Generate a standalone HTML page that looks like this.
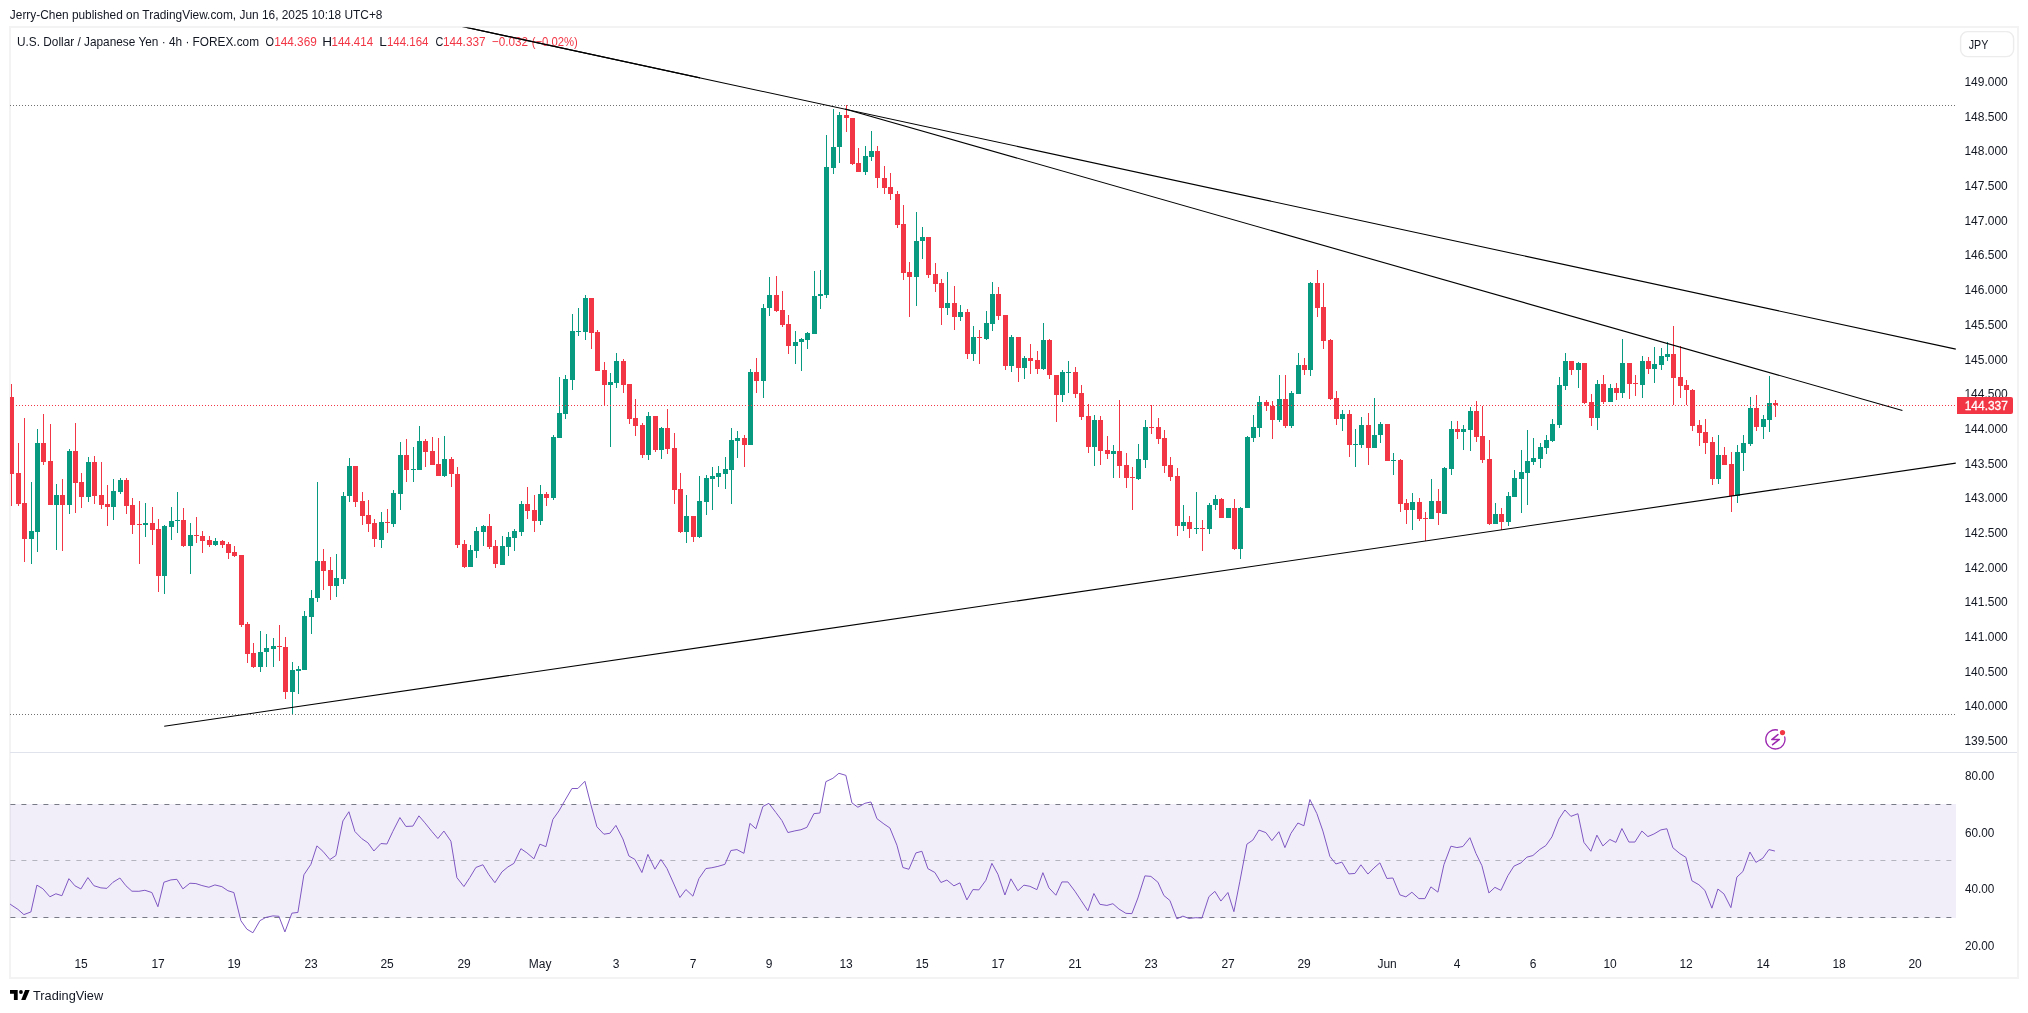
<!DOCTYPE html><html><head><meta charset="utf-8"><title>USDJPY</title><style>
html,body{margin:0;padding:0;background:#fff;}
body{width:2028px;height:1013px;overflow:hidden;position:relative;font-family:"Liberation Sans", sans-serif;}
svg{position:absolute;left:0;top:0;will-change:transform;}
</style></head><body>
<svg width="2028" height="1013" viewBox="0 0 2028 1013" font-family='"Liberation Sans", sans-serif'>
<defs>
<clipPath id="cm"><rect x="10" y="27.6" width="1946" height="724.4"/></clipPath>
<clipPath id="cr"><rect x="10" y="753" width="1946" height="197"/></clipPath>
</defs>
<rect x="10" y="27" width="2008" height="951" fill="none" stroke="#f3f3f3" stroke-width="2"/>
<rect x="10" y="752" width="2007" height="1" fill="#e0e3eb"/>
<g clip-path="url(#cm)">
<line x1="10" y1="105.5" x2="1956" y2="105.5" stroke="#707070" stroke-width="1" stroke-dasharray="1 2"/>
<line x1="10" y1="714.5" x2="1956" y2="714.5" stroke="#707070" stroke-width="1" stroke-dasharray="1 2"/>
<path fill="#089981" d="M31 482h1v82h-1zM37 429h1v123h-1zM56 484h1v66h-1zM69 449h1v65h-1zM88 457h1v45h-1zM113 479h1v41h-1zM120 478h1v16h-1zM145 503h1v34h-1zM164 525h1v69h-1zM171 507h1v33h-1zM177 492h1v41h-1zM190 523h1v51h-1zM215 538h1v8h-1zM260 631h1v41h-1zM266 634h1v33h-1zM273 638h1v29h-1zM292 662h1v52h-1zM298 666h1v28h-1zM304 611h1v59h-1zM311 590h1v44h-1zM317 482h1v120h-1zM336 554h1v43h-1zM343 492h1v92h-1zM349 458h1v44h-1zM381 512h1v36h-1zM393 490h1v37h-1zM400 442h1v68h-1zM413 447h1v35h-1zM419 426h1v44h-1zM444 436h1v41h-1zM470 545h1v22h-1zM476 527h1v31h-1zM483 525h1v21h-1zM502 536h1v29h-1zM508 532h1v24h-1zM514 529h1v22h-1zM521 501h1v35h-1zM540 485h1v40h-1zM553 435h1v65h-1zM559 377h1v61h-1zM565 375h1v44h-1zM572 314h1v76h-1zM578 308h1v28h-1zM585 295h1v45h-1zM610 373h1v74h-1zM616 353h1v35h-1zM648 412h1v48h-1zM661 427h1v32h-1zM686 495h1v48h-1zM699 476h1v62h-1zM706 475h1v40h-1zM712 467h1v43h-1zM718 466h1v21h-1zM725 457h1v32h-1zM731 428h1v76h-1zM737 431h1v27h-1zM750 369h1v76h-1zM763 304h1v94h-1zM769 277h1v39h-1zM795 331h1v33h-1zM801 338h1v33h-1zM807 332h1v17h-1zM814 271h1v63h-1zM820 270h1v39h-1zM826 135h1v163h-1zM833 109h1v65h-1zM839 112h1v51h-1zM865 146h1v29h-1zM871 131h1v30h-1zM916 212h1v94h-1zM922 227h1v32h-1zM947 272h1v43h-1zM960 305h1v16h-1zM973 326h1v35h-1zM986 311h1v29h-1zM992 282h1v49h-1zM1011 335h1v37h-1zM1024 356h1v23h-1zM1043 323h1v47h-1zM1062 370h1v32h-1zM1068 361h1v32h-1zM1094 415h1v51h-1zM1113 445h1v33h-1zM1138 444h1v36h-1zM1145 420h1v48h-1zM1183 505h1v26h-1zM1196 492h1v42h-1zM1209 503h1v31h-1zM1215 495h1v15h-1zM1228 508h1v10h-1zM1240 507h1v52h-1zM1247 436h1v72h-1zM1253 415h1v27h-1zM1259 396h1v41h-1zM1279 375h1v47h-1zM1291 391h1v37h-1zM1298 353h1v41h-1zM1310 282h1v94h-1zM1342 410h1v21h-1zM1355 429h1v38h-1zM1361 417h1v31h-1zM1374 398h1v50h-1zM1380 422h1v21h-1zM1393 453h1v22h-1zM1412 493h1v37h-1zM1431 479h1v40h-1zM1444 467h1v47h-1zM1451 421h1v54h-1zM1463 425h1v25h-1zM1470 407h1v44h-1zM1495 503h1v21h-1zM1508 492h1v34h-1zM1514 470h1v27h-1zM1521 450h1v63h-1zM1527 430h1v75h-1zM1533 438h1v27h-1zM1540 443h1v25h-1zM1546 435h1v19h-1zM1552 419h1v23h-1zM1559 377h1v51h-1zM1565 353h1v37h-1zM1578 362h1v26h-1zM1597 380h1v50h-1zM1610 384h1v18h-1zM1622 339h1v59h-1zM1642 356h1v42h-1zM1654 347h1v36h-1zM1661 348h1v22h-1zM1667 342h1v19h-1zM1718 435h1v49h-1zM1737 445h1v58h-1zM1743 435h1v36h-1zM1750 397h1v49h-1zM1763 415h1v24h-1zM1769 376h1v56h-1z"/>
<path fill="#089981" d="M29 531h5v8h-5zM35 443h5v89h-5zM54 495h5v10h-5zM67 451h5v54h-5zM86 462h5v35h-5zM111 491h5v16h-5zM118 480h5v12h-5zM143 523h5v2h-5zM162 526h5v50h-5zM169 521h5v6h-5zM175 520h5v1h-5zM188 535h5v11h-5zM213 541h5v4h-5zM258 652h5v15h-5zM264 648h5v4h-5zM271 646h5v3h-5zM290 670h5v22h-5zM296 669h5v2h-5zM302 616h5v54h-5zM309 598h5v19h-5zM315 561h5v37h-5zM334 578h5v8h-5zM341 496h5v83h-5zM347 466h5v30h-5zM379 522h5v18h-5zM391 493h5v31h-5zM398 455h5v39h-5zM411 469h5v1h-5zM417 441h5v29h-5zM442 459h5v17h-5zM468 550h5v17h-5zM474 531h5v20h-5zM481 526h5v6h-5zM500 546h5v19h-5zM506 537h5v10h-5zM512 531h5v7h-5zM519 504h5v28h-5zM538 494h5v27h-5zM551 437h5v61h-5zM557 413h5v25h-5zM563 379h5v35h-5zM570 331h5v49h-5zM576 331h5v1h-5zM583 298h5v34h-5zM608 382h5v3h-5zM614 361h5v22h-5zM646 416h5v39h-5zM659 428h5v22h-5zM684 516h5v16h-5zM697 501h5v36h-5zM704 478h5v24h-5zM710 476h5v3h-5zM716 473h5v4h-5zM723 469h5v5h-5zM729 440h5v30h-5zM735 438h5v3h-5zM748 372h5v73h-5zM761 308h5v73h-5zM767 295h5v13h-5zM793 342h5v4h-5zM799 339h5v3h-5zM805 333h5v7h-5zM812 296h5v38h-5zM818 294h5v2h-5zM824 167h5v128h-5zM831 147h5v21h-5zM837 115h5v32h-5zM863 156h5v16h-5zM869 151h5v6h-5zM914 241h5v36h-5zM920 237h5v4h-5zM945 303h5v5h-5zM958 312h5v5h-5zM971 337h5v17h-5zM984 323h5v16h-5zM990 294h5v30h-5zM1009 337h5v29h-5zM1022 358h5v10h-5zM1041 340h5v29h-5zM1060 372h5v23h-5zM1066 372h5v1h-5zM1092 420h5v27h-5zM1111 451h5v3h-5zM1136 459h5v20h-5zM1143 427h5v33h-5zM1181 522h5v4h-5zM1194 528h5v1h-5zM1207 505h5v24h-5zM1213 499h5v6h-5zM1226 508h5v10h-5zM1238 508h5v41h-5zM1245 437h5v71h-5zM1251 427h5v11h-5zM1257 402h5v26h-5zM1277 399h5v21h-5zM1289 393h5v33h-5zM1296 365h5v29h-5zM1308 283h5v87h-5zM1340 414h5v5h-5zM1353 444h5v1h-5zM1359 425h5v20h-5zM1372 435h5v13h-5zM1378 424h5v11h-5zM1391 460h5v1h-5zM1410 502h5v8h-5zM1429 501h5v18h-5zM1442 468h5v46h-5zM1449 429h5v40h-5zM1461 429h5v3h-5zM1468 411h5v19h-5zM1493 514h5v10h-5zM1506 496h5v26h-5zM1512 478h5v19h-5zM1519 472h5v7h-5zM1525 461h5v12h-5zM1531 458h5v4h-5zM1538 447h5v12h-5zM1544 440h5v8h-5zM1550 424h5v17h-5zM1557 385h5v40h-5zM1563 361h5v25h-5zM1576 363h5v7h-5zM1595 384h5v34h-5zM1608 388h5v14h-5zM1620 363h5v30h-5zM1640 361h5v24h-5zM1652 364h5v5h-5zM1659 356h5v9h-5zM1665 354h5v3h-5zM1716 455h5v24h-5zM1735 452h5v44h-5zM1741 443h5v10h-5zM1748 408h5v36h-5zM1761 419h5v8h-5zM1767 403h5v17h-5z"/>
<path fill="#f23645" d="M11 384h1v122h-1zM18 443h1v63h-1zM24 418h1v144h-1zM43 414h1v51h-1zM50 424h1v81h-1zM62 479h1v72h-1zM75 423h1v90h-1zM81 473h1v35h-1zM94 456h1v48h-1zM101 462h1v47h-1zM107 485h1v41h-1zM126 478h1v36h-1zM132 498h1v36h-1zM139 501h1v63h-1zM152 507h1v38h-1zM158 519h1v73h-1zM183 508h1v39h-1zM196 517h1v26h-1zM202 531h1v22h-1zM209 536h1v11h-1zM222 540h1v8h-1zM228 542h1v17h-1zM234 546h1v11h-1zM241 555h1v72h-1zM247 622h1v41h-1zM253 643h1v25h-1zM279 625h1v36h-1zM285 637h1v62h-1zM323 549h1v41h-1zM330 557h1v43h-1zM355 466h1v41h-1zM362 492h1v33h-1zM368 500h1v32h-1zM374 519h1v28h-1zM387 509h1v24h-1zM406 439h1v43h-1zM425 439h1v28h-1zM432 437h1v28h-1zM438 438h1v38h-1zM451 457h1v30h-1zM457 467h1v81h-1zM464 540h1v28h-1zM489 514h1v35h-1zM495 540h1v28h-1zM527 487h1v32h-1zM534 495h1v37h-1zM546 492h1v14h-1zM591 298h1v51h-1zM597 330h1v41h-1zM604 362h1v44h-1zM623 359h1v34h-1zM629 384h1v40h-1zM635 399h1v37h-1zM642 423h1v35h-1zM655 416h1v36h-1zM667 409h1v45h-1zM674 433h1v71h-1zM680 473h1v60h-1zM693 516h1v26h-1zM744 435h1v32h-1zM756 358h1v35h-1zM776 276h1v36h-1zM782 291h1v36h-1zM788 315h1v39h-1zM846 105h1v27h-1zM852 118h1v47h-1zM858 148h1v24h-1zM877 146h1v42h-1zM884 166h1v28h-1zM890 173h1v27h-1zM897 191h1v37h-1zM903 205h1v75h-1zM909 262h1v55h-1zM928 237h1v41h-1zM935 263h1v29h-1zM941 279h1v46h-1zM954 286h1v44h-1zM967 309h1v50h-1zM979 330h1v34h-1zM998 287h1v33h-1zM1005 315h1v55h-1zM1018 337h1v45h-1zM1030 344h1v30h-1zM1037 351h1v23h-1zM1049 339h1v40h-1zM1056 375h1v47h-1zM1075 367h1v31h-1zM1081 385h1v35h-1zM1088 404h1v49h-1zM1100 416h1v49h-1zM1107 436h1v23h-1zM1119 400h1v78h-1zM1126 453h1v35h-1zM1132 467h1v43h-1zM1151 405h1v29h-1zM1158 418h1v26h-1zM1164 430h1v43h-1zM1170 457h1v24h-1zM1177 468h1v68h-1zM1189 516h1v22h-1zM1202 520h1v31h-1zM1221 498h1v20h-1zM1234 499h1v51h-1zM1266 400h1v11h-1zM1272 401h1v38h-1zM1285 375h1v53h-1zM1304 358h1v17h-1zM1317 270h1v47h-1zM1323 283h1v66h-1zM1330 339h1v61h-1zM1336 391h1v34h-1zM1349 410h1v47h-1zM1368 413h1v52h-1zM1387 424h1v37h-1zM1400 459h1v53h-1zM1406 499h1v25h-1zM1419 498h1v23h-1zM1425 512h1v29h-1zM1438 489h1v36h-1zM1457 421h1v18h-1zM1476 401h1v41h-1zM1482 406h1v57h-1zM1489 440h1v85h-1zM1501 508h1v22h-1zM1571 361h1v14h-1zM1584 363h1v41h-1zM1591 394h1v32h-1zM1603 375h1v29h-1zM1616 383h1v17h-1zM1629 363h1v36h-1zM1635 375h1v21h-1zM1648 357h1v17h-1zM1673 326h1v79h-1zM1680 346h1v52h-1zM1686 380h1v25h-1zM1692 389h1v42h-1zM1699 420h1v26h-1zM1705 419h1v35h-1zM1712 437h1v48h-1zM1724 447h1v18h-1zM1731 452h1v60h-1zM1756 395h1v36h-1zM1775 400h1v17h-1z"/>
<path fill="#f23645" d="M9 397h5v77h-5zM16 473h5v31h-5zM22 503h5v36h-5zM41 443h5v19h-5zM48 461h5v44h-5zM60 495h5v10h-5zM73 451h5v32h-5zM79 482h5v15h-5zM92 462h5v34h-5zM99 495h5v10h-5zM105 504h5v3h-5zM124 480h5v26h-5zM130 505h5v20h-5zM137 524h5v1h-5zM150 523h5v7h-5zM156 529h5v47h-5zM181 520h5v26h-5zM194 535h5v1h-5zM200 536h5v5h-5zM207 540h5v5h-5zM220 541h5v4h-5zM226 544h5v9h-5zM232 552h5v4h-5zM239 555h5v70h-5zM245 624h5v30h-5zM251 653h5v14h-5zM277 646h5v1h-5zM283 647h5v45h-5zM321 561h5v10h-5zM328 570h5v16h-5zM353 466h5v36h-5zM360 501h5v15h-5zM366 515h5v9h-5zM372 523h5v16h-5zM385 522h5v1h-5zM404 455h5v15h-5zM423 441h5v11h-5zM430 451h5v14h-5zM436 464h5v12h-5zM449 459h5v15h-5zM455 474h5v71h-5zM462 544h5v23h-5zM487 526h5v21h-5zM493 546h5v18h-5zM525 504h5v7h-5zM532 510h5v11h-5zM544 494h5v4h-5zM589 298h5v35h-5zM595 332h5v39h-5zM602 370h5v15h-5zM621 361h5v24h-5zM627 384h5v35h-5zM633 418h5v8h-5zM640 425h5v30h-5zM653 416h5v34h-5zM665 428h5v21h-5zM672 448h5v42h-5zM678 489h5v43h-5zM691 516h5v21h-5zM742 438h5v7h-5zM754 372h5v9h-5zM774 295h5v16h-5zM780 310h5v15h-5zM786 324h5v22h-5zM844 115h5v3h-5zM850 118h5v46h-5zM856 163h5v9h-5zM875 151h5v27h-5zM882 178h5v10h-5zM888 187h5v7h-5zM895 194h5v31h-5zM901 224h5v49h-5zM907 272h5v5h-5zM926 237h5v38h-5zM933 274h5v10h-5zM939 283h5v25h-5zM952 303h5v14h-5zM965 312h5v42h-5zM977 337h5v1h-5zM996 294h5v22h-5zM1003 315h5v51h-5zM1016 337h5v31h-5zM1028 358h5v3h-5zM1035 360h5v9h-5zM1047 340h5v35h-5zM1054 375h5v20h-5zM1073 372h5v22h-5zM1079 393h5v24h-5zM1086 416h5v31h-5zM1098 420h5v31h-5zM1105 450h5v4h-5zM1117 451h5v15h-5zM1124 465h5v13h-5zM1130 477h5v1h-5zM1149 427h5v1h-5zM1156 427h5v12h-5zM1162 438h5v28h-5zM1168 465h5v12h-5zM1175 476h5v50h-5zM1187 522h5v7h-5zM1200 528h5v1h-5zM1219 499h5v19h-5zM1232 508h5v41h-5zM1264 402h5v4h-5zM1270 406h5v14h-5zM1283 399h5v27h-5zM1302 365h5v5h-5zM1315 283h5v25h-5zM1321 307h5v34h-5zM1328 340h5v59h-5zM1334 398h5v21h-5zM1347 414h5v31h-5zM1366 425h5v23h-5zM1385 424h5v37h-5zM1398 460h5v44h-5zM1404 503h5v7h-5zM1417 502h5v17h-5zM1423 518h5v1h-5zM1436 501h5v12h-5zM1455 429h5v3h-5zM1474 411h5v26h-5zM1480 436h5v24h-5zM1487 459h5v65h-5zM1499 514h5v8h-5zM1569 361h5v9h-5zM1582 363h5v40h-5zM1589 402h5v16h-5zM1601 384h5v18h-5zM1614 388h5v5h-5zM1627 363h5v21h-5zM1633 383h5v1h-5zM1646 361h5v8h-5zM1671 354h5v24h-5zM1678 377h5v9h-5zM1684 385h5v5h-5zM1690 390h5v36h-5zM1697 425h5v8h-5zM1703 432h5v11h-5zM1710 442h5v37h-5zM1722 455h5v10h-5zM1729 464h5v32h-5zM1754 408h5v19h-5zM1773 403h5v2h-5z"/>
<line x1="10" y1="405.5" x2="1956" y2="405.5" stroke="#f23645" stroke-width="1" stroke-dasharray="1 2"/>
<line x1="446.3" y1="23.08" x2="1955.8" y2="349.1" stroke="#000" stroke-width="1.1"/>
<line x1="845" y1="109" x2="1902.4" y2="410.5" stroke="#000" stroke-width="1.1"/>
<line x1="164.2" y1="726.2" x2="1955.8" y2="463.1" stroke="#000" stroke-width="1.1"/>
<g fill="none" stroke="#9c27b0" stroke-width="1.3" stroke-linecap="round" stroke-linejoin="round">
<path d="M1784.67 736.92 A9.6 9.6 0 1 1 1777.40 730.01"/>
<path d="M1777.9 734.6 L1771.8 739.6 L1779.4 739.4 L1772.6 744.7" stroke-width="1.5"/>
</g>
<circle cx="1782.5" cy="732.6" r="2.6" fill="#f23645"/>
</g>
<g clip-path="url(#cr)">
<rect x="10" y="804" width="1946" height="114" fill="#7e57c2" fill-opacity="0.1"/>
<line x1="10.4" y1="804.5" x2="1956" y2="804.5" stroke="#787b86" stroke-opacity="1" stroke-width="1" stroke-dasharray="5 6"/>
<line x1="10.4" y1="860.5" x2="1956" y2="860.5" stroke="#787b86" stroke-opacity="0.5" stroke-width="1" stroke-dasharray="5 6"/>
<line x1="10.4" y1="917.5" x2="1956" y2="917.5" stroke="#787b86" stroke-opacity="1" stroke-width="1" stroke-dasharray="5 6"/>
<polyline fill="none" stroke="#7e57c2" stroke-width="1" points="4.9,899.7 10.9,904.70 17.9,909.33 23.9,914.59 30.9,911.95 36.9,885.13 42.9,888.77 49.9,896.79 55.9,893.78 61.9,895.73 68.9,878.65 74.9,885.79 80.9,888.95 87.9,877.55 93.9,885.73 100.9,887.86 106.9,888.36 112.9,882.34 119.9,878.01 125.9,885.72 131.9,891.20 138.9,891.29 144.9,890.26 151.9,892.55 157.9,906.74 163.9,882.24 170.9,879.90 176.9,879.32 182.9,888.88 189.9,883.22 195.9,883.58 201.9,885.52 208.9,887.27 214.9,884.92 221.9,886.66 227.9,890.73 233.9,892.55 240.9,920.72 246.9,929.18 252.9,932.77 259.9,920.68 265.9,917.40 272.9,915.88 278.9,916.27 284.9,931.93 291.9,913.17 297.9,912.43 303.9,874.82 310.9,864.33 316.9,845.88 322.9,851.28 329.9,859.57 335.9,855.48 342.9,820.96 348.9,811.73 354.9,831.54 361.9,838.72 367.9,842.79 373.9,850.97 380.9,843.53 386.9,844.03 392.9,831.28 399.9,817.55 405.9,826.44 412.9,826.10 418.9,815.84 424.9,822.83 431.9,831.50 437.9,838.54 443.9,831.06 450.9,841.19 456.9,877.64 463.9,886.56 469.9,877.43 475.9,867.46 482.9,864.76 488.9,874.72 494.9,882.69 501.9,871.93 507.9,866.95 513.9,863.38 520.9,848.70 526.9,852.83 533.9,858.80 539.9,844.17 545.9,846.68 552.9,819.36 558.9,811.00 564.9,800.53 571.9,788.56 577.9,788.47 584.9,781.25 590.9,804.74 596.9,826.75 603.9,834.21 609.9,833.24 615.9,825.38 622.9,838.96 628.9,856.00 634.9,859.43 641.9,872.54 647.9,854.42 654.9,869.17 660.9,859.45 666.9,868.40 673.9,884.03 679.9,897.57 685.9,889.52 692.9,896.17 698.9,878.66 705.9,868.56 711.9,867.72 717.9,866.40 724.9,864.33 730.9,850.51 736.9,849.59 743.9,853.35 749.9,823.41 755.9,828.75 762.9,806.53 768.9,803.30 775.9,812.53 781.9,820.53 787.9,832.55 794.9,830.86 800.9,829.74 806.9,827.33 813.9,813.66 819.9,813.00 825.9,781.63 832.9,778.29 838.9,773.27 845.9,775.39 851.9,802.84 857.9,807.26 864.9,803.31 870.9,801.97 876.9,818.61 883.9,823.95 889.9,827.98 896.9,845.14 902.9,867.50 908.9,869.25 915.9,852.93 921.9,851.28 927.9,868.66 934.9,872.50 940.9,882.49 946.9,880.05 953.9,885.85 959.9,882.89 966.9,899.92 972.9,889.58 978.9,889.88 985.9,880.25 991.9,863.33 997.9,874.19 1004.9,895.01 1010.9,878.83 1017.9,890.76 1023.9,885.15 1029.9,886.32 1036.9,889.67 1042.9,872.66 1048.9,887.84 1055.9,895.24 1061.9,881.95 1067.9,881.95 1074.9,891.20 1080.9,900.23 1087.9,910.76 1093.9,893.50 1099.9,904.34 1106.9,905.43 1112.9,903.71 1118.9,908.97 1125.9,913.33 1131.9,913.63 1137.9,897.98 1144.9,875.87 1150.9,876.40 1157.9,882.20 1163.9,895.54 1169.9,900.47 1176.9,918.85 1182.9,916.10 1188.9,918.48 1195.9,917.69 1201.9,918.09 1208.9,896.70 1214.9,891.37 1220.9,901.07 1227.9,892.51 1233.9,911.67 1239.9,881.20 1246.9,844.17 1252.9,840.06 1258.9,830.08 1265.9,832.62 1271.9,840.63 1278.9,831.71 1284.9,847.64 1290.9,833.44 1297.9,823.00 1303.9,825.76 1309.9,799.54 1316.9,813.67 1322.9,831.07 1329.9,856.44 1335.9,863.96 1341.9,862.12 1348.9,873.91 1354.9,873.46 1360.9,864.80 1367.9,874.07 1373.9,868.01 1379.9,862.82 1386.9,878.47 1392.9,877.99 1399.9,894.87 1405.9,896.87 1411.9,892.25 1418.9,898.62 1424.9,898.62 1430.9,886.89 1437.9,892.14 1443.9,864.81 1450.9,846.20 1456.9,847.57 1462.9,846.51 1469.9,837.69 1475.9,853.31 1481.9,865.61 1488.9,892.95 1494.9,887.35 1500.9,890.37 1507.9,875.70 1513.9,866.17 1520.9,862.90 1526.9,857.16 1532.9,855.52 1539.9,849.39 1545.9,845.53 1551.9,836.93 1558.9,819.07 1564.9,809.98 1570.9,816.37 1577.9,813.71 1583.9,842.34 1590.9,851.27 1596.9,835.13 1602.9,845.93 1609.9,839.50 1615.9,842.40 1621.9,828.51 1628.9,842.05 1634.9,842.05 1641.9,831.04 1647.9,836.57 1653.9,834.01 1660.9,829.89 1666.9,828.76 1672.9,847.74 1679.9,853.61 1685.9,857.35 1691.9,880.78 1698.9,884.76 1704.9,890.41 1711.9,908.16 1717.9,889.04 1723.9,893.83 1730.9,907.68 1736.9,877.08 1742.9,871.51 1749.9,852.02 1755.9,862.39 1762.9,858.12 1768.9,849.59 1774.9,851.04"/>
</g>
<rect x="1960.6" y="31.6" width="53" height="25" rx="7" fill="#fff" stroke="#ececec" stroke-width="1.4"/>
<text id="hdr" x="9.83" y="18.7" font-size="12.7" fill="#131722" textLength="372.66" lengthAdjust="spacingAndGlyphs">Jerry-Chen published on TradingView.com, Jun 16, 2025 10:18 UTC+8</text>
<text id="leg" x="16.98" y="45.8" font-size="12.6" fill="#131722" textLength="242.05" lengthAdjust="spacingAndGlyphs">U.S. Dollar / Japanese Yen · 4h · FOREX.com</text>
<text id="lO" x="265.45" y="45.8" font-size="12.6" fill="#131722" textLength="8.52" lengthAdjust="spacingAndGlyphs">O</text>
<text id="vO" x="274.19" y="45.8" font-size="12.6" fill="#f23645" textLength="42.58" lengthAdjust="spacingAndGlyphs">144.369</text>
<text id="lH" x="322.24" y="45.8" font-size="12.6" fill="#131722" textLength="9.84" lengthAdjust="spacingAndGlyphs">H</text>
<text id="vH" x="331.52" y="45.8" font-size="12.6" fill="#f23645" textLength="41.51" lengthAdjust="spacingAndGlyphs">144.414</text>
<text id="lL" x="379.23" y="45.8" font-size="12.6" fill="#131722" textLength="7.58" lengthAdjust="spacingAndGlyphs">L</text>
<text id="vL" x="386.92" y="45.8" font-size="12.6" fill="#f23645" textLength="41.62" lengthAdjust="spacingAndGlyphs">144.164</text>
<text id="lC" x="435.58" y="45.8" font-size="12.6" fill="#131722" textLength="7.83" lengthAdjust="spacingAndGlyphs">C</text>
<text id="vC" x="442.88" y="45.8" font-size="12.6" fill="#f23645" textLength="42.79" lengthAdjust="spacingAndGlyphs">144.337</text>
<text id="ch1" x="491.79" y="45.8" font-size="12.6" fill="#f23645" textLength="36.26" lengthAdjust="spacingAndGlyphs">−0.032</text>
<text id="ch2" x="531.75" y="45.8" font-size="12.6" fill="#f23645" textLength="46.12" lengthAdjust="spacingAndGlyphs">(−0.02%)</text>
<text id="jpy" x="1968.76" y="48.9" font-size="12.4" fill="#131722" textLength="19.55" lengthAdjust="spacingAndGlyphs">JPY</text>
<text id="tvl" x="33.01" y="999.9" font-size="13" fill="#131722" textLength="70.14" lengthAdjust="spacingAndGlyphs">TradingView</text>
<text id="p149.0" x="1964.40" y="86.0" font-size="12" fill="#131722" textLength="43.39" lengthAdjust="spacingAndGlyphs">149.000</text>
<text id="p148.5" x="1964.40" y="120.7" font-size="12" fill="#131722" textLength="43.39" lengthAdjust="spacingAndGlyphs">148.500</text>
<text id="p148.0" x="1964.40" y="155.4" font-size="12" fill="#131722" textLength="43.39" lengthAdjust="spacingAndGlyphs">148.000</text>
<text id="p147.5" x="1964.40" y="190.1" font-size="12" fill="#131722" textLength="43.39" lengthAdjust="spacingAndGlyphs">147.500</text>
<text id="p147.0" x="1964.40" y="224.8" font-size="12" fill="#131722" textLength="43.39" lengthAdjust="spacingAndGlyphs">147.000</text>
<text id="p146.5" x="1964.40" y="259.4" font-size="12" fill="#131722" textLength="43.39" lengthAdjust="spacingAndGlyphs">146.500</text>
<text id="p146.0" x="1964.40" y="294.1" font-size="12" fill="#131722" textLength="43.39" lengthAdjust="spacingAndGlyphs">146.000</text>
<text id="p145.5" x="1964.40" y="328.8" font-size="12" fill="#131722" textLength="43.39" lengthAdjust="spacingAndGlyphs">145.500</text>
<text id="p145.0" x="1964.40" y="363.5" font-size="12" fill="#131722" textLength="43.39" lengthAdjust="spacingAndGlyphs">145.000</text>
<text id="p144.5" x="1964.40" y="398.2" font-size="12" fill="#131722" textLength="43.39" lengthAdjust="spacingAndGlyphs">144.500</text>
<text id="p144.0" x="1964.40" y="432.9" font-size="12" fill="#131722" textLength="43.39" lengthAdjust="spacingAndGlyphs">144.000</text>
<text id="p143.5" x="1964.40" y="467.6" font-size="12" fill="#131722" textLength="43.39" lengthAdjust="spacingAndGlyphs">143.500</text>
<text id="p143.0" x="1964.40" y="502.3" font-size="12" fill="#131722" textLength="43.39" lengthAdjust="spacingAndGlyphs">143.000</text>
<text id="p142.5" x="1964.40" y="537.0" font-size="12" fill="#131722" textLength="43.39" lengthAdjust="spacingAndGlyphs">142.500</text>
<text id="p142.0" x="1964.40" y="571.7" font-size="12" fill="#131722" textLength="43.39" lengthAdjust="spacingAndGlyphs">142.000</text>
<text id="p141.5" x="1964.40" y="606.3" font-size="12" fill="#131722" textLength="43.39" lengthAdjust="spacingAndGlyphs">141.500</text>
<text id="p141.0" x="1964.40" y="641.0" font-size="12" fill="#131722" textLength="43.39" lengthAdjust="spacingAndGlyphs">141.000</text>
<text id="p140.5" x="1964.40" y="675.7" font-size="12" fill="#131722" textLength="43.39" lengthAdjust="spacingAndGlyphs">140.500</text>
<text id="p140.0" x="1964.40" y="710.4" font-size="12" fill="#131722" textLength="43.39" lengthAdjust="spacingAndGlyphs">140.000</text>
<text id="p139.5" x="1964.40" y="745.1" font-size="12" fill="#131722" textLength="43.39" lengthAdjust="spacingAndGlyphs">139.500</text>
<text id="r80" x="1965.01" y="779.9" font-size="12" fill="#131722" textLength="29.41" lengthAdjust="spacingAndGlyphs">80.00</text>
<text id="r60" x="1965.01" y="836.6" font-size="12" fill="#131722" textLength="29.41" lengthAdjust="spacingAndGlyphs">60.00</text>
<text id="r40" x="1965.01" y="893.3" font-size="12" fill="#131722" textLength="29.41" lengthAdjust="spacingAndGlyphs">40.00</text>
<text id="r20" x="1965.01" y="950.0" font-size="12" fill="#131722" textLength="29.41" lengthAdjust="spacingAndGlyphs">20.00</text>
<path d="M1957 397h54a2 2 0 0 1 2 2v13a2 2 0 0 1 -2 2h-54z" fill="#f23645"/>
<text x="1964.71" y="409.9" font-size="12" fill="#fff" stroke="#fff" stroke-width="0.3" textLength="43.18" lengthAdjust="spacingAndGlyphs">144.337</text>
<g clip-path="url(#cm)">
<line x1="446.3" y1="23.08" x2="700" y2="77.87" stroke="#000" stroke-width="1.1"/>
</g>
<text x="81.1" y="968" font-size="12" fill="#131722" text-anchor="middle">15</text>
<text x="158.1" y="968" font-size="12" fill="#131722" text-anchor="middle">17</text>
<text x="234.1" y="968" font-size="12" fill="#131722" text-anchor="middle">19</text>
<text x="311.1" y="968" font-size="12" fill="#131722" text-anchor="middle">23</text>
<text x="387.1" y="968" font-size="12" fill="#131722" text-anchor="middle">25</text>
<text x="464.1" y="968" font-size="12" fill="#131722" text-anchor="middle">29</text>
<text x="540.1" y="968" font-size="12" fill="#131722" text-anchor="middle">May</text>
<text x="616.1" y="968" font-size="12" fill="#131722" text-anchor="middle">3</text>
<text x="693.1" y="968" font-size="12" fill="#131722" text-anchor="middle">7</text>
<text x="769.1" y="968" font-size="12" fill="#131722" text-anchor="middle">9</text>
<text x="846.1" y="968" font-size="12" fill="#131722" text-anchor="middle">13</text>
<text x="922.1" y="968" font-size="12" fill="#131722" text-anchor="middle">15</text>
<text x="998.1" y="968" font-size="12" fill="#131722" text-anchor="middle">17</text>
<text x="1075.1" y="968" font-size="12" fill="#131722" text-anchor="middle">21</text>
<text x="1151.1" y="968" font-size="12" fill="#131722" text-anchor="middle">23</text>
<text x="1228.1" y="968" font-size="12" fill="#131722" text-anchor="middle">27</text>
<text x="1304.1" y="968" font-size="12" fill="#131722" text-anchor="middle">29</text>
<text x="1387.1" y="968" font-size="12" fill="#131722" text-anchor="middle">Jun</text>
<text x="1457.1" y="968" font-size="12" fill="#131722" text-anchor="middle">4</text>
<text x="1533.1" y="968" font-size="12" fill="#131722" text-anchor="middle">6</text>
<text x="1610.1" y="968" font-size="12" fill="#131722" text-anchor="middle">10</text>
<text x="1686.1" y="968" font-size="12" fill="#131722" text-anchor="middle">12</text>
<text x="1763.1" y="968" font-size="12" fill="#131722" text-anchor="middle">14</text>
<text x="1839.1" y="968" font-size="12" fill="#131722" text-anchor="middle">18</text>
<text x="1915.1" y="968" font-size="12" fill="#131722" text-anchor="middle">20</text>
<g fill="#000">
<path d="M10 990H17.7V1000H13.9V993.8H10Z"/>
<circle cx="20.95" cy="992" r="1.9"/>
<path d="M25.1 990H29.7L25.5 1000H21.2Z"/>
</g>
</svg></body></html>
